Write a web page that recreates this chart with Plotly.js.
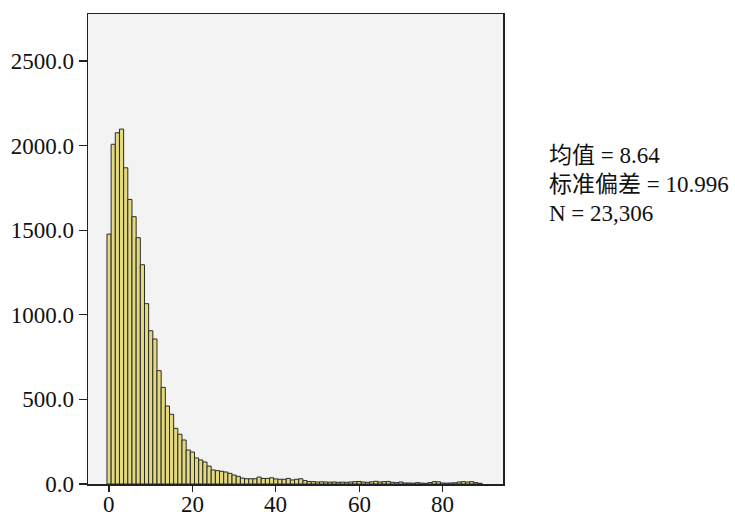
<!DOCTYPE html>
<html>
<head>
<meta charset="utf-8">
<script src="https://cdn.plot.ly/plotly-3.0.1.min.js"></script>
<style>html,body{margin:0;padding:0;background:#fff;}#chart{width:735px;height:514px;}</style>
</head>
<body>
<div id="chart"></div>
<script>
const binCenters = [];
for (let i = 0; i < 90; i++) binCenters.push(i);
const counts = [
  1477, 2008, 2076, 2098, 1869, 1682, 1580, 1456, 1296, 1066,
  906, 857, 670, 571, 461, 412, 329, 294, 260, 201,
  189, 154, 142, 130, 106, 83, 79, 75, 71, 63,
  53, 45, 35, 31, 31, 31, 41, 33, 33, 37,
  30, 28, 28, 33, 24, 28, 31, 20, 15, 14,
  12, 13, 12, 11, 12, 10, 11, 10, 12, 14,
  15, 12, 10, 13, 16, 12, 14, 15, 10, 8,
  12, 6, 6, 5, 8, 5, 4, 8, 14, 13,
  6, 5, 6, 7, 12, 14, 12, 14, 8, 4
];
const yTicks = [0, 500, 1000, 1500, 2000, 2500];
const yTickLabels = ['0.0', '500.0', '1000.0', '1500.0', '2000.0', '2500.0'];
const xTicks = [0, 20, 40, 60, 80];
const xTickLabels = ['0', '20', '40', '60', '80'];
const statLines = ['均值 = 8.64', '标准偏差 = 10.996', 'N = 23,306'];

const font = {family: '"Liberation Serif", "Times New Roman", serif', size: 23, color: '#111'};

const trace = {
  type: 'bar',
  x: binCenters,
  y: counts,
  width: 1,
  marker: {color: '#e2d980', line: {color: '#2a2a2a', width: 1}},
  hoverinfo: 'x+y'
};

const statY = [0.700, 0.638, 0.576];
const annotations = statLines.map((t, i) => ({
  xref: 'paper', yref: 'paper', x: 1.105, y: statY[i],
  xanchor: 'left', yanchor: 'middle', showarrow: false, align: 'left',
  text: t,
  font: {family: '"Liberation Serif", "Noto Sans CJK SC", serif', size: 23, color: '#111'}
}));
xTicks.forEach((v, i) => {
  annotations.push({
    xref: 'x', yref: 'y', x: v, y: 0,
    xanchor: 'center', yanchor: 'top', yshift: -7, showarrow: false,
    text: xTickLabels[i], font: font, borderpad: 0
  });
});

const layout = {
  width: 735, height: 514,
  margin: {l: 88, r: 232, t: 14, b: 30, pad: 0},
  paper_bgcolor: '#ffffff',
  plot_bgcolor: '#f3f3f3',
  bargap: 0,
  showlegend: false,
  font: font,
  xaxis: {
    range: [-5.05, 94.5],
    tickvals: xTicks,
    showticklabels: false,
    ticks: 'outside', ticklen: 6, tickwidth: 1.2, tickcolor: '#222',
    showline: true, linecolor: '#222', linewidth: 1.5, mirror: true,
    showgrid: false, zeroline: false
  },
  yaxis: {
    range: [0, 2778],
    tickvals: yTicks,
    ticktext: yTickLabels,
    ticks: 'outside', ticklen: 8, tickwidth: 1.2, tickcolor: '#222',
    showline: true, linecolor: '#222', linewidth: 1.5, mirror: true,
    showgrid: false, zeroline: false,
    tickfont: font
  },
  annotations: annotations
};

Plotly.newPlot('chart', [trace], layout, {displayModeBar: false, staticPlot: true});
</script>
</body>
</html>
